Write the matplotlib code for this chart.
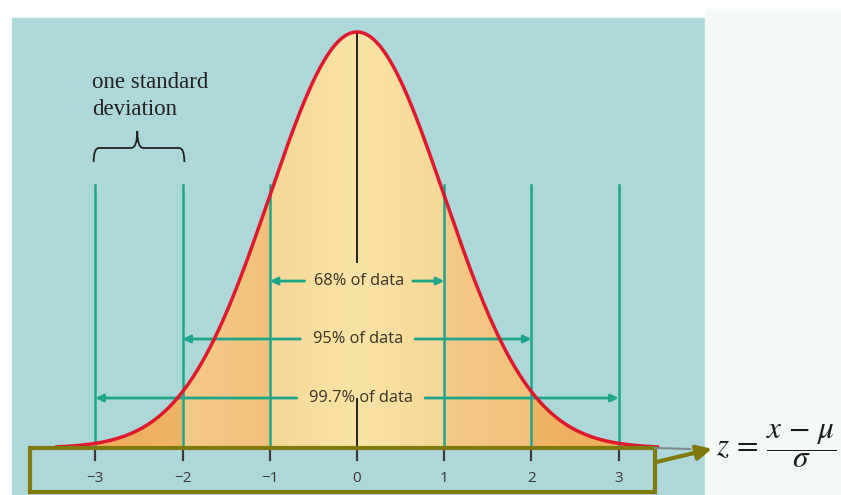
import numpy as np
import matplotlib.pyplot as plt
from matplotlib.colors import LinearSegmentedColormap
from matplotlib.patches import Rectangle, PathPatch
from matplotlib.path import Path

# standard deviation marks and axis ticks
sd_marks = [-3, -2, -1, 1, 2, 3]
tick_values = [-3, -2, -1, 0, 1, 2, 3]
tick_labels = ['\u22123', '\u22122', '\u22121', '0', '1', '2', '3']
coverage_k = [1, 2, 3]
coverage_labels = ['68% of data', '95% of data', '99.7% of data']

teal = '#1fa58a'
red = '#e0182d'
olive = '#807a0c'
blue_bg = '#acd8da'

x = np.linspace(-3.45, 3.45, 600)
pdf = np.exp(-x**2 / 2) / np.sqrt(2 * np.pi)

fig = plt.figure(figsize=(8.41, 4.95), dpi=100)
fig.patch.set_facecolor('white')
ax = fig.add_axes([0, 0, 1, 1])
ax.set_xlim(-4.094, 5.55)
ax.set_ylim(-0.0451, 0.4296)
ax.axis('off')

# backgrounds
ax.add_patch(Rectangle((-3.956, -0.0451), 7.946, 0.4574, color=blue_bg, zorder=0))
ax.add_patch(Rectangle((3.99, -0.0451), 2, 0.466, color='#f4f9f7', zorder=0))

# gradient fill under the curve, clipped to the curve
stops = [(-3.6, '#eba853'), (-2.01, '#efb566'), (-1.99, '#f3ca88'), (-1.01, '#f0c27c'),
         (-0.99, '#f6d899'), (0, '#f9e3a7'), (0.99, '#f6d899'), (1.01, '#f3ca88'),
         (1.99, '#f0c27c'), (2.01, '#efb566'), (3.6, '#eba853')]
cmap = LinearSegmentedColormap.from_list(
    'bands', [((p + 3.6) / 7.2, c) for p, c in stops], N=1024)
grad = np.linspace(0, 1, 1024).reshape(1, -1)
im = ax.imshow(grad, cmap=cmap, extent=(-3.6, 3.6, 0, 0.41), aspect='auto',
               interpolation='bilinear', zorder=1)
verts = np.column_stack([np.r_[x, x[::-1]], np.r_[pdf, np.zeros_like(pdf)]])
clip = PathPatch(Path(verts), transform=ax.transData, facecolor='none', edgecolor='none')
ax.add_patch(clip)
im.set_clip_path(clip)

# vertical sd lines
for m in sd_marks:
    ax.plot([m, m], [0, 0.2522], color=teal, lw=1.8, zorder=2)

# coverage arrows
label_y = [0.1601, 0.1045, 0.0479]
gaps = [(-0.6, 0.64), (-0.65, 0.665), (-0.69, 0.78)]
for k, lab, yy, (g0, g1) in zip(coverage_k, coverage_labels, label_y, gaps):
    ax.annotate('', xy=(-k, yy), xytext=(g0, yy),
                arrowprops=dict(arrowstyle='-|>', color=teal, lw=2,
                                mutation_scale=11, shrinkA=0, shrinkB=0), zorder=3)
    ax.annotate('', xy=(k, yy), xytext=(g1, yy),
                arrowprops=dict(arrowstyle='-|>', color=teal, lw=2,
                                mutation_scale=11, shrinkA=0, shrinkB=0), zorder=3)
    ax.text((g0 + g1) / 2, yy, lab, ha='center', va='center', fontsize=11.8,
            family='Open Sans', color='#3b3320', zorder=4)

# black centre line
ax.plot([0, 0], [0.1784, pdf.max()], color='#222222', lw=1.4, zorder=2)
ax.plot([0, 0], [0.0, 0.047], color='#222222', lw=1.4, zorder=5)

# normal curve
ax.plot(x, pdf, color=red, lw=2.5, zorder=4, solid_capstyle='round')

# ticks and labels
for t, tl in zip(tick_values, tick_labels):
    ax.plot([t, t], [0, -0.012], color='#3c3c3c', lw=1.6, zorder=5)
    ax.text(t, -0.029, tl, ha='center', va='center', fontsize=11,
            family='Open Sans', color='#3a3a3a', zorder=5)

# olive box around the axis
ax.add_patch(Rectangle((-3.75, -0.0422), 7.167, 0.0422, fill=False,
                       edgecolor=olive, lw=3, zorder=6))
ax.plot([3.42, 3.82], [0.0, -0.001], color='#7d8a8a', lw=1.5, zorder=6)
ax.annotate('', xy=(4.07, -0.0008), xytext=(3.43, -0.0135),
            arrowprops=dict(arrowstyle='-|>', color=olive, lw=3,
                            mutation_scale=22, shrinkA=0, shrinkB=0), zorder=6)

# z formula
plt.rcParams['mathtext.fontset'] = 'stix'
ax.text(4.12, 0.002, r'$z\,=\,\dfrac{x\,-\,\mu}{\sigma}$', ha='left', va='center',
        fontsize=22.5, color='#1a1a1a', zorder=7)

# brace and "one standard deviation"
bl, br, bm = -3.02, -1.98, -2.52
yb, yh, yt = 0.2742, 0.2877, 0.304
codes = [Path.MOVETO, Path.CURVE3, Path.CURVE3, Path.LINETO, Path.CURVE3, Path.CURVE3,
         Path.MOVETO, Path.CURVE3, Path.CURVE3, Path.LINETO, Path.CURVE3, Path.CURVE3]
pts = [(bl, yb), (bl, yh), (bl + 0.06, yh), (bm - 0.07, yh), (bm, yh), (bm, yt),
       (br, yb), (br, yh), (br - 0.06, yh), (bm + 0.07, yh), (bm, yh), (bm, yt)]
ax.add_patch(PathPatch(Path(pts, codes), facecolor='none', edgecolor='#222222',
                       lw=1.3, zorder=5))
ax.text(-3.04, 0.3375, 'one standard\ndeviation', ha='left', va='center',
        fontsize=16.5, family='Liberation Serif', color='#222222',
        linespacing=1.4, zorder=5)

fig.savefig('out.png', dpi=100)
